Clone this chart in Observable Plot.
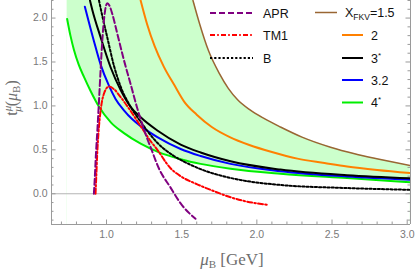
<!DOCTYPE html>
<html><head><meta charset="utf-8">
<script src="https://cdn.jsdelivr.net/npm/d3@7"></script>
<script src="https://cdn.jsdelivr.net/npm/@observablehq/plot@0.6"></script>
<style>body{margin:0;background:#fff}#chart{width:415px;height:273px}</style>
</head><body><div id="chart"></div>
<script>
// ---- data (mu_B in GeV, t value) ----
const aprMu = [0.916,0.922,0.928,0.939,0.95,0.961,0.975,0.99,1.005,1.02,1.038,1.072,1.116,1.16,1.205,1.227,1.27,1.293,1.348,1.426,1.493,1.592];
const aprT  = [0.0,0.18,0.4,0.72,1.06,1.42,1.82,2.08,2.17,2.14,2.05,1.82,1.52,1.25,0.97,0.85,0.63,0.53,0.29,0.07,-0.11,-0.285];
const tm1Mu = [0.927,0.932,0.938,0.946,0.961,0.985,1.016,1.05,1.094,1.149,1.227,1.293,1.338,1.426,1.493,1.6,1.714,1.825,1.936,2.069];
const tm1T  = [0.0,0.2,0.45,0.68,0.95,1.15,1.22,1.19,1.1,0.97,0.77,0.6,0.5,0.29,0.2,0.11,0.03,-0.04,-0.09,-0.125];
const bMu   = [0.95,0.975,1.005,1.049,1.094,1.16,1.227,1.338,1.448,1.559,1.626,1.825,2.157,2.6,3.02];
const bT    = [2.2,2.0,1.78,1.46,1.22,0.99,0.82,0.58,0.43,0.33,0.28,0.18,0.1,0.065,0.045];
const x15Mu = [1.575,1.62,1.678,1.75,1.81,1.872,1.95,2.05,2.157,2.3,2.49,2.65,2.822,3.02];
const x15T  = [2.2,1.93,1.63,1.37,1.2,1.07,0.96,0.855,0.76,0.645,0.53,0.455,0.39,0.32];
const x2Mu  = [1.227,1.27,1.32,1.38,1.45,1.52,1.6,1.7,1.82,1.95,2.1,2.27,2.45,2.6,2.8,3.02];
const x2T   = [2.2,1.93,1.68,1.45,1.24,1.04,0.9,0.76,0.645,0.555,0.475,0.4,0.35,0.31,0.27,0.235];
const x3Mu  = [0.89,0.906,0.961,1.027,1.094,1.16,1.227,1.338,1.493,1.626,1.825,2.157,2.6,3.02];
const x3T   = [2.2,2.09,1.78,1.44,1.18,0.99,0.87,0.72,0.56,0.47,0.37,0.275,0.21,0.175];
const x32Mu = [0.856,0.916,0.961,1.016,1.06,1.116,1.17,1.227,1.338,1.493,1.626,1.825,2.157,2.6,3.02];
const x32T  = [2.13,1.74,1.47,1.23,1.08,0.95,0.85,0.77,0.645,0.51,0.43,0.34,0.257,0.196,0.16];
const x4Mu  = [0.738,0.76,0.783,0.815,0.85,0.894,0.95,1.03,1.116,1.227,1.338,1.5,1.626,1.825,2.157,2.6,3.02];
const x4T   = [1.99,1.8,1.64,1.47,1.33,1.17,0.99,0.81,0.69,0.57,0.48,0.39,0.34,0.285,0.228,0.178,0.132];

const xTicks = [1.0,1.5,2.0,2.5,3.0];
const yTicks = [0.0,0.5,1.0,1.5,2.0];
const xDomain = [0.634, 3.022];
const yDomain = [-0.35, 2.2];

// ---- build tables ----
const pts = (mu, t) => mu.map((m, i) => ({mu: m, t: t[i]}));
const apr = pts(aprMu, aprT), tm1 = pts(tm1Mu, tm1T), bset = pts(bMu, bT);
const c15 = pts(x15Mu, x15T), c2 = pts(x2Mu, x2T), c3 = pts(x3Mu, x3T), c32 = pts(x32Mu, x32T), c4 = pts(x4Mu, x4T);
// band: from the 4* curve up to the X=1.5 curve (clipped by the frame top)
const bandTop = [{mu: x4Mu[0], t: yDomain[1]}, ...c15];

const minorX = d3.range(7, 31).map(d => d / 10).filter(d => !xTicks.some(t => Math.abs(t - d) < 1e-9));
const minorY = d3.range(-3, 23).map(d => d / 10).filter(d => !yTicks.some(t => Math.abs(t - d) < 1e-9));

const W = 415, H = 273, mL = 51, mR = 5, mT = 0, mB = 49;
const pxY = (yDomain[1] - yDomain[0]) / (H - mT - mB);
const pxX = (xDomain[1] - xDomain[0]) / (W - mL - mR);
const frameC = "#9a9a9a";
const C = "monotone-x";

const chart = Plot.plot({
  width: W, height: H,
  marginLeft: mL, marginRight: mR, marginTop: mT, marginBottom: mB,
  style: {fontFamily: "'Liberation Sans', Arial, sans-serif", background: "#fff", overflow: "visible"},
  x: {domain: xDomain},
  y: {domain: yDomain},
  marks: [
    Plot.areaY(bandTop, {x: "mu", y1: yDomain[0], y2: "t", fill: "#ccffcc", curve: C, clip: true}),
    Plot.areaY(c4, {x: "mu", y1: yDomain[0], y2: "t", fill: "#ffffff", curve: C, clip: true}),
    Plot.ruleY([0], {stroke: "#b5b5b5", strokeWidth: 1}),
    // inward frame ticks
    Plot.ruleX(xTicks, {x: d => d, y1: yDomain[0], y2: yDomain[0] + 4.5 * pxY, stroke: frameC}),
    Plot.ruleX(minorX, {x: d => d, y1: yDomain[0], y2: yDomain[0] + 2.5 * pxY, stroke: frameC}),
    Plot.ruleY(yTicks, {y: d => d, x1: xDomain[0], x2: xDomain[0] + 4.5 * pxX, stroke: frameC}),
    Plot.ruleY(minorY, {y: d => d, x1: xDomain[0], x2: xDomain[0] + 2.5 * pxX, stroke: frameC}),
    Plot.ruleY(yTicks, {y: d => d, x1: xDomain[1], x2: xDomain[1] - 4.5 * pxX, stroke: frameC}),
    Plot.ruleY(minorY, {y: d => d, x1: xDomain[1], x2: xDomain[1] - 2.5 * pxX, stroke: frameC}),
    // curves
    Plot.line(c15, {x: "mu", y: "t", stroke: "#996633", strokeWidth: 1.5, curve: C, clip: true}),
    Plot.line(c2, {x: "mu", y: "t", stroke: "#ff8000", strokeWidth: 2, curve: C, clip: true}),
    Plot.line(c4, {x: "mu", y: "t", stroke: "#00ee00", strokeWidth: 2, curve: C, clip: true}),
    Plot.line(c32, {x: "mu", y: "t", stroke: "#0000ff", strokeWidth: 2, curve: C, clip: true}),
    Plot.line(c3, {x: "mu", y: "t", stroke: "#000000", strokeWidth: 2, curve: C, clip: true}),
    Plot.line(bset, {x: "mu", y: "t", stroke: "#000000", strokeWidth: 2, strokeDasharray: "2.2,2", curve: C, clip: true}),
    Plot.line(tm1, {x: "mu", y: "t", stroke: "#ff0000", strokeWidth: 2, strokeDasharray: "5,2.2,1.6,2.2", curve: C, clip: true}),
    Plot.line(apr, {x: "mu", y: "t", stroke: "#800080", strokeWidth: 2, strokeDasharray: "6,3", curve: C, clip: true}),
    // frame
    Plot.ruleX([xDomain[0], xDomain[1]], {stroke: frameC, strokeWidth: 1}),
    Plot.ruleY([yDomain[0]], {stroke: frameC, strokeWidth: 1}),
    Plot.axisX(xTicks, {tickSize: 0, tickPadding: 6, tickFormat: d3.format(".1f"), fill: "#7a7a7a", fontSize: 10.5, label: null}),
    Plot.axisY(yTicks, {tickSize: 0, tickPadding: 4, tickFormat: d3.format(".1f"), fill: "#7a7a7a", fontSize: 10.5, label: null})
  ]
});
document.getElementById("chart").appendChild(chart);

// ---- axis labels and legend ----
const svg = d3.select(chart);
const serif = "'Liberation Serif', 'Times New Roman', serif";
const xl = svg.append("text").attr("x", 232).attr("y", 265).attr("text-anchor", "middle")
  .attr("font-family", serif).attr("font-size", 17).attr("fill", "#6e6e6e");
xl.append("tspan").attr("font-style", "italic").text("μ");
xl.append("tspan").attr("font-size", 11).attr("dy", 3).text("B");
xl.append("tspan").attr("dy", -3).text(" [GeV]");

const yl = svg.append("text").attr("transform", "translate(17,98) rotate(-90)").attr("text-anchor", "middle")
  .attr("font-family", serif).attr("font-size", 16).attr("fill", "#6e6e6e");
yl.append("tspan").text("t");
yl.append("tspan").attr("font-size", 11).attr("font-style", "italic").attr("dy", -6).text("μ");
yl.append("tspan").attr("font-size", 11).attr("font-style", "italic").attr("dx", -6).attr("dy", 10).text("μ");
yl.append("tspan").attr("dy", -4).text("(");
yl.append("tspan").attr("font-style", "italic").text("μ");
yl.append("tspan").attr("font-size", 11).attr("dy", 3).text("B");
yl.append("tspan").attr("dy", -3).text(")");

const legendLeft = [
  {label: "APR", color: "#800080", dash: "6,3", y: 13},
  {label: "TM1", color: "#ff0000", dash: "5,2.2,1.6,2.2", y: 35},
  {label: "B", color: "#000000", dash: "2.2,2", y: 58}
];
const legendRight = [
  {label: "1.5", color: "#996633", y: 12.5, w: 1.5, first: true},
  {label: "2", color: "#ff8000", y: 35, w: 2},
  {label: "3", color: "#000000", y: 58, w: 2, star: true},
  {label: "3.2", color: "#0000ff", y: 80, w: 2},
  {label: "4", color: "#00ee00", y: 102.5, w: 2, star: true}
];
const lg = svg.append("g").attr("font-family", "'Liberation Sans', Arial, sans-serif").attr("font-size", 12.5)
  .attr("fill", "#111").attr("text-anchor", "start");
for (const d of legendLeft) {
  lg.append("line").attr("x1", 210).attr("x2", 253).attr("y1", d.y).attr("y2", d.y)
    .attr("stroke", d.color).attr("stroke-width", 2).attr("stroke-dasharray", d.dash);
  lg.append("text").attr("x", 263).attr("y", d.y + 4.5).text(d.label);
}
for (const d of legendRight) {
  const x1 = d.first ? 315 : 342, x2 = d.first ? 337 : 363, tx = d.first ? 345 : 371;
  lg.append("line").attr("x1", x1).attr("x2", x2).attr("y1", d.y).attr("y2", d.y)
    .attr("stroke", d.color).attr("stroke-width", d.w);
  const t = lg.append("text").attr("x", tx).attr("y", d.y + 4.5);
  if (d.first) {
    t.append("tspan").text("X");
    t.append("tspan").attr("font-size", 8.5).attr("dy", 3).text("FKV");
    t.append("tspan").attr("dy", -3).text("=" + d.label);
  } else {
    t.append("tspan").text(d.label);
    if (d.star) t.append("tspan").attr("font-size", 8).attr("dy", -5).text("*");
  }
}
</script></body></html>
